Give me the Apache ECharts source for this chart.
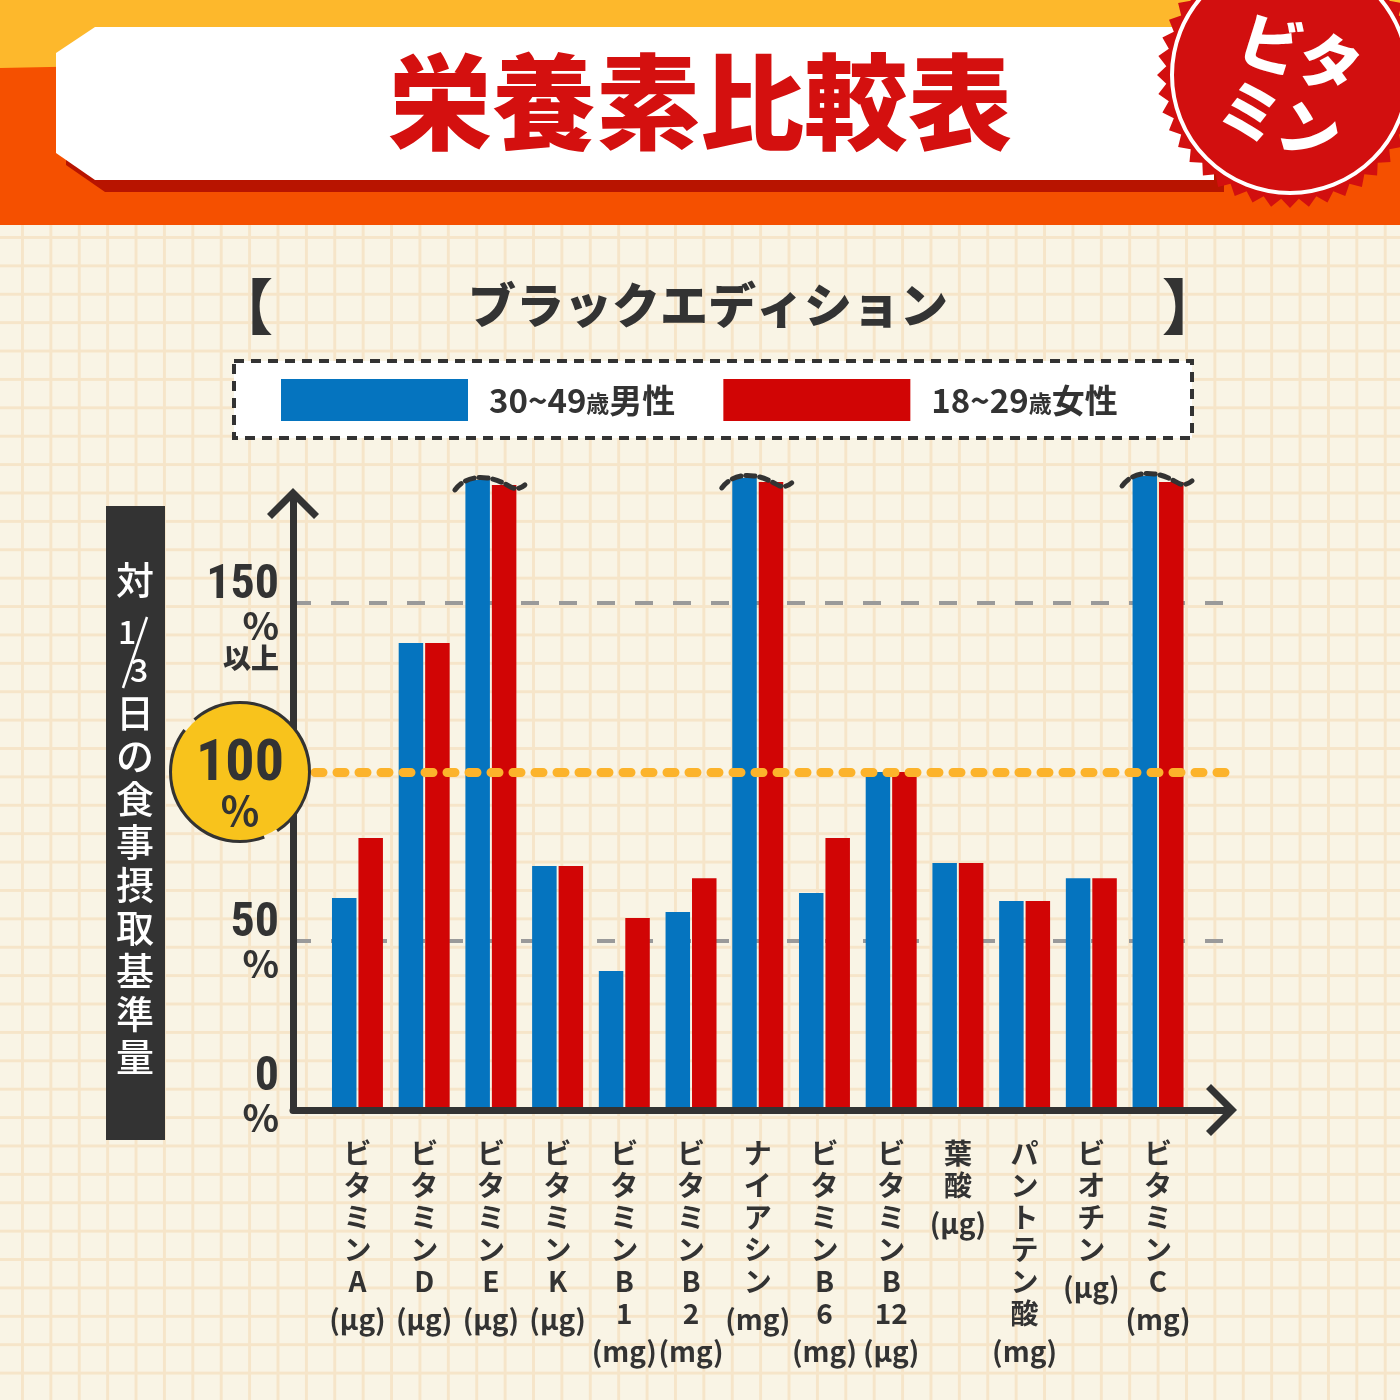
<!DOCTYPE html>
<html>
<head>
<meta charset="utf-8">
<script src="https://cdn.jsdelivr.net/npm/echarts@6/dist/echarts.min.js"></script>
<style>
  html, body { margin: 0; padding: 0; }
  body {
    background-color: #f9f4e5;
    background-image: linear-gradient(to right, #f6e5c9 3px, transparent 3px),
      linear-gradient(to bottom, #f6e5c9 3px, transparent 3px);
    background-size: 28.4px 28.4px;
    background-position: 21px 236px;
  }
  #main { width: 1400px; height: 1400px; }
</style>
</head>
<body>
<div id="main"></div>
<script>
// データ
const categories = ['ビタミンA', 'ビタミンD', 'ビタミンE', 'ビタミンK', 'ビタミンB1', 'ビタミンB2', 'ナイアシン',
  'ビタミンB6', 'ビタミンB12', '葉酸', 'パントテン酸', 'ビオチン', 'ビタミンC']
const units = ['μg', 'μg', 'μg', 'μg', 'mg', 'mg', 'mg', 'mg', 'μg', 'μg', 'mg', 'μg', 'mg']
const seriesNames = ['30~49歳男性', '18~29歳女性']
const maleValues = [62.7, 138.2, 186.4, 72.2, 41.1, 58.6, 187.0, 64.2, 100, 73.1, 61.8, 68.6, 187.6]
const femaleValues = [80.5, 138.2, 184.9, 72.2, 56.8, 68.6, 185.8, 80.5, 100, 73.1, 61.8, 68.6, 185.8]
const cappedItems = ['ビタミンE', 'ナイアシン', 'ビタミンC'] // 150%以上で頭打ち表示
const yTicks = [0, 50, 100, 150]

// 座標系の設定
const zeroY = 1110
const pxPerPct = 3.38
const barTop = 470
const axisTop = 497.5
const barMax = (zeroY - barTop) / pxPerPct
const axisMax = (zeroY - axisTop) / pxPerPct

const FONT_JP = '"Noto Sans CJK JP", "Noto Sans", sans-serif'
const FONT_NUM = '"Roboto Condensed", "DejaVu Sans Condensed", "Roboto", sans-serif'
const chevron = 'path://M0,26L26,0L52,26L47,31L26,10L5,31Z'

function stampPoints (cx, cy, r1, r2, n) {
  const pts = []
  for (let i = 0; i < n * 2; i++) {
    const a = Math.PI * i / n
    const r = i % 2 ? r2 : r1
    pts.push([cx + r * Math.cos(a), cy + r * Math.sin(a)])
  }
  return pts
}

function yLabel (value) {
  if (value === 150) return '{sp| }\n{n|150}\n{p|%}\n{s|以上}'
  if (value === 50) return '{n|50}\n{p|%}'
  if (value === 0) return '{n|0}\n{p|%}\n{sp| }'
  return ''
}

const chart = echarts.init(document.getElementById('main'))
chart.setOption({
  animation: false,
  graphic: [
    // ヘッダー
    { type: 'rect', shape: { x: 0, y: 0, width: 1400, height: 225 }, style: { fill: '#f55000' } },
    { type: 'polygon', shape: { points: [[0, 0], [1400, 0], [1400, 40], [0, 68]] }, style: { fill: '#fdb82c' } },
    { type: 'polygon', shape: { points: [[105, 39], [1224, 39], [1224, 192], [105, 192], [66, 165], [66, 65]] }, style: { fill: '#b81400' } },
    { type: 'polygon', shape: { points: [[95, 27], [1214, 27], [1214, 180], [95, 180], [56, 153], [56, 53]] }, style: { fill: '#ffffff' } },
    { type: 'text', x: 700, y: 102, style: { text: '栄養素比較表', font: '900 104px ' + FONT_JP, fill: '#d4100f', align: 'center', verticalAlign: 'middle' } },
    { type: 'polygon', shape: { points: stampPoints(1290, 75, 133, 124, 44) }, style: { fill: '#d20f0f' } },
    { type: 'circle', shape: { cx: 1290, cy: 75, r: 118 }, style: { fill: 'none', stroke: '#ffffff', lineWidth: 4 } },
    { type: 'text', x: 1290, y: 87, rotation: -0.3, style: { text: 'ビタ\nミン', font: '900 62px ' + FONT_JP, lineHeight: 70, fill: '#ffffff', align: 'center', verticalAlign: 'middle' } },
    // サブタイトル
    { type: 'text', x: 708, y: 305, style: { text: 'ブラックエディション', font: '900 48px ' + FONT_JP, fill: '#333333', align: 'center', verticalAlign: 'middle' } },
    { type: 'text', x: 243, y: 307, style: { text: '【', font: '900 60px ' + FONT_JP, fill: '#333333', align: 'center', verticalAlign: 'middle' } },
    { type: 'text', x: 1192, y: 307, style: { text: '】', font: '900 60px ' + FONT_JP, fill: '#333333', align: 'center', verticalAlign: 'middle' } },
    // 凡例の枠
    { type: 'rect', shape: { x: 234, y: 361, width: 958, height: 77 }, style: { fill: '#ffffff', stroke: '#333333', lineWidth: 4, lineDash: [10, 7] } },
    // 縦軸タイトル
    { type: 'rect', shape: { x: 106, y: 506, width: 59, height: 634 }, style: { fill: '#333333' } },
    { type: 'text', x: 135, y: 580, style: { text: '対', font: '500 38px ' + FONT_JP, fill: '#ffffff', align: 'center', verticalAlign: 'middle' } },
    { type: 'text', x: 127, y: 632, style: { text: '1', font: '500 32px ' + FONT_JP, fill: '#ffffff', align: 'center', verticalAlign: 'middle' } },
    { type: 'line', shape: { x1: 147, y1: 617, x2: 123, y2: 688 }, style: { stroke: '#ffffff', lineWidth: 2.5 } },
    { type: 'text', x: 139, y: 670, style: { text: '3', font: '500 32px ' + FONT_JP, fill: '#ffffff', align: 'center', verticalAlign: 'middle' } },
    { type: 'text', x: 135, y: 691, style: { text: '日の食事摂取基準量'.split('').join('\n'), font: '500 38px ' + FONT_JP, lineHeight: 43, fill: '#ffffff', align: 'center', verticalAlign: 'top' } }
  ],
  legend: {
    data: seriesNames,
    left: 276,
    top: 374,
    itemWidth: 187,
    itemHeight: 42,
    itemGap: 48,
    icon: 'rect',
    formatter: name => name.replace('歳', '{s|歳}'),
    textStyle: {
      fontFamily: FONT_JP,
      fontSize: 33,
      fontWeight: 'bold',
      color: '#333',
      padding: [0, 0, 0, 16],
      rich: { s: { fontSize: 23, fontFamily: FONT_JP, fontWeight: 'bold', color: '#333', padding: [6, 0, 0, 0] } }
    }
  },
  grid: [
    { left: 324.1, right: 208.6, top: barTop, bottom: 1400 - zeroY },
    { left: 293, right: 172.5, top: axisTop, bottom: 1400 - zeroY }
  ],
  xAxis: [
    {
      type: 'category',
      gridIndex: 0,
      data: categories,
      axisLine: { show: false },
      axisTick: { show: false },
      axisLabel: {
        interval: 0,
        margin: 27,
        color: '#333',
        fontFamily: FONT_JP,
        fontSize: 28,
        fontWeight: 'bold',
        lineHeight: 32,
        formatter: (value, index) => value.match(/\d+|./g).join('\n') + '\n{u|(' + units[index] + ')}',
        rich: { u: { fontFamily: FONT_JP, fontSize: 28, fontWeight: 'bold', lineHeight: 44, color: '#333' } }
      }
    },
    {
      type: 'value',
      gridIndex: 1,
      min: 0,
      max: 1,
      z: 3,
      axisLine: { show: true, symbol: ['none', chevron], symbolSize: [52, 31], symbolOffset: [0, -6], lineStyle: { color: '#333', width: 7 } },
      axisTick: { show: false },
      axisLabel: { show: false },
      splitLine: { show: false }
    }
  ],
  yAxis: [
    {
      type: 'value',
      gridIndex: 0,
      min: 0,
      max: barMax,
      show: false,
      splitLine: { show: false }
    },
    {
      type: 'value',
      gridIndex: 1,
      min: 0,
      max: axisMax,
      interval: 50,
      z: 3,
      axisLine: { show: true, symbol: ['none', chevron], symbolSize: [52, 31], symbolOffset: [0, -6], lineStyle: { color: '#333', width: 7 } },
      axisTick: { show: false },
      splitLine: { show: false },
      axisLabel: {
        margin: 14,
        formatter: yLabel,
        rich: {
          sp: { lineHeight: 30, fontSize: 10 },
          n: { fontFamily: FONT_NUM, fontWeight: 'bold', fontSize: 48, lineHeight: 46, color: '#333' },
          p: { fontFamily: FONT_JP, fontWeight: 'bold', fontSize: 38, lineHeight: 34, color: '#333' },
          s: { fontFamily: FONT_JP, fontWeight: 900, fontSize: 28, lineHeight: 30, color: '#333' }
        }
      }
    }
  ],
  series: [
    {
      name: seriesNames[0],
      type: 'bar',
      xAxisIndex: 0,
      yAxisIndex: 0,
      barWidth: 24.5,
      barGap: '8%',
      itemStyle: { color: '#0574bf' },
      data: maleValues
    },
    {
      name: seriesNames[1],
      type: 'bar',
      xAxisIndex: 0,
      yAxisIndex: 0,
      barWidth: 24.5,
      barGap: '8%',
      itemStyle: { color: '#d10505' },
      data: femaleValues
    },
    {
      // 頭打ちの波線
      type: 'custom',
      xAxisIndex: 0,
      yAxisIndex: 0,
      z: 4,
      clip: false,
      silent: true,
      data: cappedItems.map(n => {
        const i = categories.indexOf(n)
        return [i, Math.max(maleValues[i], femaleValues[i])]
      }),
      renderItem: (params, api) => {
        const p = api.coord([api.value(0), api.value(1)])
        return {
          type: 'path',
          x: p[0],
          y: p[1],
          shape: { pathData: 'M-36,10 C-26,-3 -13,-3 -4,-2 C6,-1 14,4 22,8 Q28,10 34,5' },
          style: { fill: 'none', stroke: '#333', lineWidth: 5, lineDash: [9, 5], lineCap: 'round' }
        }
      }
    },
    {
      // 50% / 150% の目安線
      type: 'line',
      xAxisIndex: 1,
      yAxisIndex: 1,
      data: [],
      z: 1,
      markLine: {
        silent: true,
        z: 1,
        symbol: 'none',
        label: { show: false },
        lineStyle: { color: '#9a9a9a', width: 4, type: [18, 20] },
        data: [{ yAxis: yTicks[1] }, { yAxis: yTicks[3] }]
      }
    },
    {
      // 100% ライン
      type: 'line',
      xAxisIndex: 1,
      yAxisIndex: 1,
      data: [],
      z: 6,
      markLine: {
        silent: true,
        z: 6,
        symbol: 'none',
        lineStyle: { color: '#fcb32b', width: 9, type: [8, 14], cap: 'round' },
        label: {
          show: true,
          position: 'start',
          distance: 53,
          align: 'center',
          verticalAlign: 'middle',
          formatter: '{n|100}\n{p|%}',
          backgroundColor: '#f8c31c',
          borderColor: '#333',
          borderWidth: 3,
          borderType: [175, 14],
          borderRadius: 68,
          width: 96,
          padding: [32, 20, 12, 20],
          rich: {
            n: { fontFamily: FONT_NUM, fontWeight: 'bold', fontSize: 58, lineHeight: 58, color: '#333', align: 'center' },
            p: { fontFamily: FONT_JP, fontWeight: 'bold', fontSize: 40, lineHeight: 34, color: '#333', align: 'center' }
          }
        },
        data: [{ yAxis: yTicks[2] }]
      }
    }
  ]
})
</script>
</body>
</html>
